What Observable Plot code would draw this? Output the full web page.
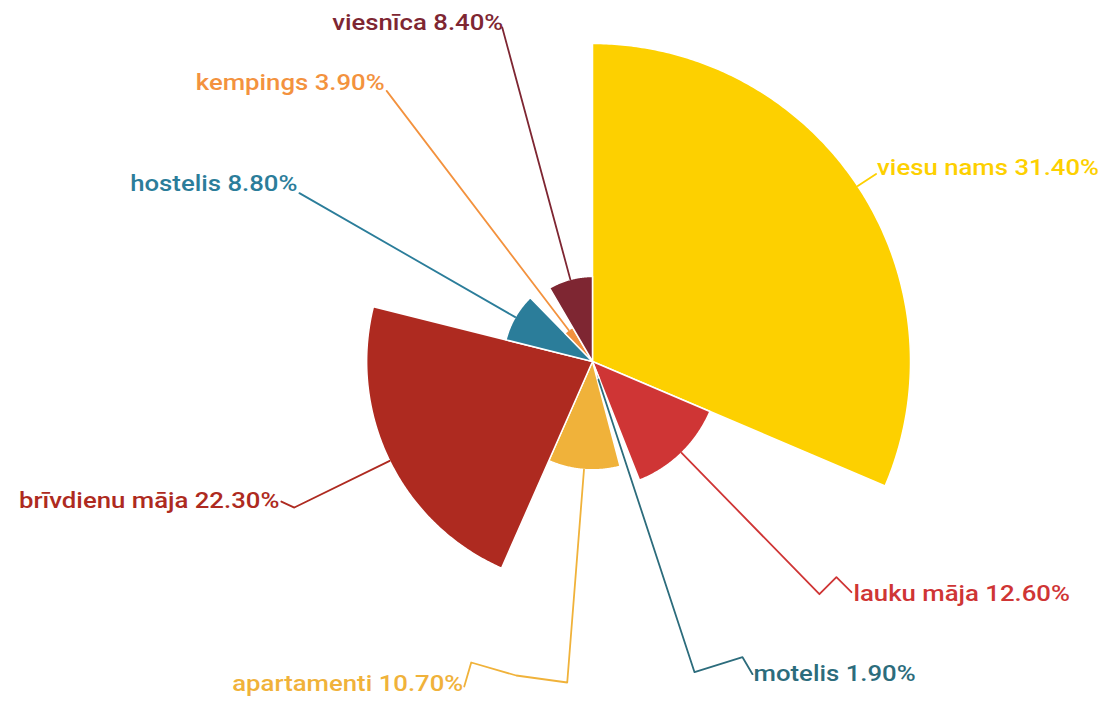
<!DOCTYPE html>
<html>
<head>
<meta charset="utf-8">
<script src="https://cdn.jsdelivr.net/npm/d3@7"></script>
<script src="https://cdn.jsdelivr.net/npm/@observablehq/plot@0.6"></script>
<style>
  html, body { margin: 0; padding: 0; background: #ffffff; }
  #chart { width: 1105px; height: 701px; }
</style>
</head>
<body>
<div id="chart"></div>
<script>
// ---- data ----
const names  = ["viesu nams", "lauku māja", "motelis", "apartamenti", "brīvdienu māja", "hostelis", "kempings", "viesnīca"];
const values = [31.4, 12.6, 1.9, 10.7, 22.3, 8.8, 3.9, 8.4];
const labels = ["viesu nams 31.40%", "lauku māja 12.60%", "motelis 1.90%", "apartamenti 10.70%", "brīvdienu māja 22.30%", "hostelis 8.80%", "kempings 3.90%", "viesnīca 8.40%"];
const colors = ["#FDD000", "#CF3535", "#2C6C7C", "#F0B23A", "#AE2A20", "#2B7D9A", "#F3923E", "#7E2632"];

// ---- label layout (pixels) ----
const leaderLen = [340, 325, 327, 322, 332, 338, 340, 346];           // radial end distance
const kinks = [[], [[17,-17],[32,-2]], [[48,-15],[58,2]], [[-51,-7],[-96,-20],[-103,4]], [[-13,-6]], [], [], []];
const labelOff = [[1,-6],[2,2],[1,0],[-1,-3],[-2,-1],[-2,-9],[-2,-8],[1,-5]];
const anchors = ["start","start","start","end","end","end","end","end"];

const W = 1105, H = 701, cx = 592, cy = 361;
const k = 318 / d3.max(values);   // px per value unit (radius scale)
const total = d3.sum(values);

// polar helper: angle in degrees clockwise from north, r in value units
const pt = (deg, r) => { const a = deg * Math.PI / 180; return [r * Math.sin(a), r * Math.cos(a)]; };

let start = 0;
const slices = values.map((v, i) => {
  const a0 = start, a1 = start + v / total * 360; start = a1;
  const pts = [[0, 0]];
  const n = Math.max(2, Math.ceil((a1 - a0) / 0.5));
  for (let j = 0; j <= n; j++) pts.push(pt(a0 + (a1 - a0) * j / n, v));
  pts.push([0, 0]);
  return {name: names[i], a0, a1, mid: (a0 + a1) / 2, v, pts};
});

const leaders = slices.map((s, i) => {
  const p0 = pt(s.mid, s.v);
  const p1 = pt(s.mid, leaderLen[i] / k);
  const path = [p0, p1];
  kinks[i].forEach(([dx, dy]) => path.push([p1[0] + dx / k, p1[1] - dy / k]));
  const last = path[path.length - 1];
  const lab = {x: last[0] + labelOff[i][0] / k, y: last[1] - labelOff[i][1] / k, text: labels[i], color: colors[i], anchor: anchors[i]};
  return {path, lab};
});

const marks = [];
slices.forEach((s, i) => {
  marks.push(Plot.line(s.pts, {x: d => d[0], y: d => d[1], fill: colors[i], stroke: "#ffffff", strokeWidth: 1.5, strokeLinejoin: "round", curve: "linear"}));
});
leaders.forEach((l, i) => {
  marks.push(Plot.line(l.path, {x: d => d[0], y: d => d[1], stroke: colors[i], strokeWidth: 1.8, curve: "linear"}));
});
["start", "end"].forEach(anc => {
  marks.push(Plot.text(leaders.map(l => l.lab).filter(d => d.anchor === anc), {
    x: "x", y: "y", text: "text", fill: "color", textAnchor: anc,
    fontSize: 22, fontWeight: 500, lineAnchor: "middle"
  }));
});

const chart = Plot.plot({
  width: W, height: H,
  marginTop: 0, marginRight: 0, marginBottom: 0, marginLeft: 0,
  x: {domain: [-cx / k, (W - cx) / k], axis: null},
  y: {domain: [-(H - cy) / k, cy / k], axis: null},
  style: {fontFamily: "Roboto, 'Noto Sans', sans-serif", background: "#ffffff"},
  marks
});
// widen the label glyphs horizontally to match the reference typography
chart.querySelectorAll('g[aria-label="text"] text').forEach(t => {
  t.setAttribute("transform", (t.getAttribute("transform") || "") + " scale(1.17,1)");
});
document.getElementById("chart").appendChild(chart);
</script>
</body>
</html>
